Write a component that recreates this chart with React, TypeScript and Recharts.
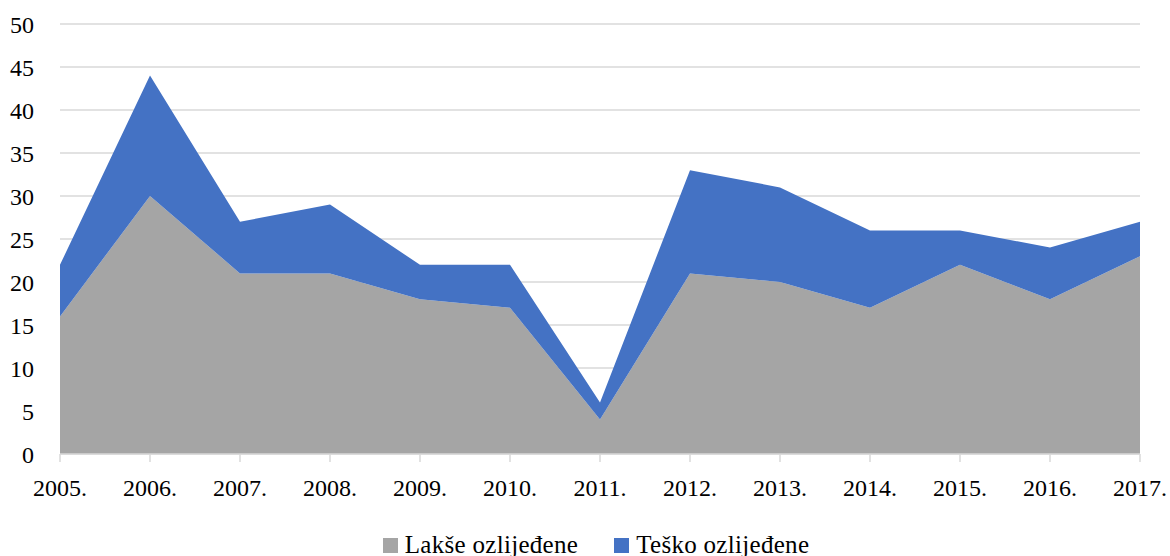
import React from "react";
import { AreaChart, Area, XAxis, YAxis, CartesianGrid, Legend } from "recharts";

const years = ["2005.", "2006.", "2007.", "2008.", "2009.", "2010.", "2011.", "2012.", "2013.", "2014.", "2015.", "2016.", "2017."];
const lakse = [16, 30, 21, 21, 18, 17, 4, 21, 20, 17, 22, 18, 23];
const tesko = [6, 14, 6, 8, 4, 5, 2, 12, 11, 9, 4, 6, 4];
const yTicks = [0, 5, 10, 15, 20, 25, 30, 35, 40, 45, 50];

const data = years.map((y, i) => ({ year: y, lakse: lakse[i], tesko: tesko[i] }));

const FONT = "'Liberation Serif', serif";
const GRAY = "#A5A5A5";
const BLUE = "#4472C4";
const GRID = "#D9D9D9";

const legendItems = [
  { label: "Lakše ozlijeđene", color: GRAY },
  { label: "Teško ozlijeđene", color: BLUE },
];

const LegendContent = () => (
  <div style={{ display: "flex", justifyContent: "center", alignItems: "center", fontFamily: FONT, fontSize: 25, lineHeight: "22px", color: "#000", height: 22, paddingLeft: 52, letterSpacing: 0.3 }}>
    {legendItems.map((it, i) => (
      <div key={i} style={{ display: "flex", alignItems: "center", marginRight: i === 0 ? 36 : 0 }}>
        <span style={{ display: "inline-block", width: 15, height: 15, background: it.color, marginRight: 7 }} />
        <span>{it.label}</span>
      </div>
    ))}
  </div>
);

export default function App() {
  return (
    <div style={{ position: "absolute", top: 0, left: 0, width: 1170, height: 556, background: "#fff", fontFamily: FONT }}>
      <AreaChart width={1170} height={556} data={data} margin={{ top: 24, right: 30, left: 0, bottom: 0 }}>
        <CartesianGrid vertical={false} stroke={GRID} strokeWidth={1.5} />
        <XAxis
          dataKey="year"
          stroke={GRID}
          tickSize={8}
          tickMargin={17}
          height={80}
          interval={0}
          tick={{ fill: "#000", fontSize: 24, fontFamily: FONT }}
          axisLine={{ stroke: GRID, strokeWidth: 1.5 }}
          tickLine={{ stroke: GRID, strokeWidth: 1.5 }}
        />
        <YAxis
          domain={[0, 50]}
          ticks={yTicks}
          width={60}
          tickLine={false}
          axisLine={false}
          tickSize={0}
          tickMargin={26}
          interval={0}
          tick={{ fill: "#000", fontSize: 24, fontFamily: FONT }}
        />
        <Legend verticalAlign="bottom" height={22} wrapperStyle={{ top: 534, bottom: "auto" }} content={<LegendContent />} />
        <Area type="linear" dataKey="lakse" name="Lakše ozlijeđene" stackId="a" stroke="none" fill={GRAY} fillOpacity={1} isAnimationActive={false} />
        <Area type="linear" dataKey="tesko" name="Teško ozlijeđene" stackId="a" stroke="none" fill={BLUE} fillOpacity={1} isAnimationActive={false} />
      </AreaChart>
    </div>
  );
}
